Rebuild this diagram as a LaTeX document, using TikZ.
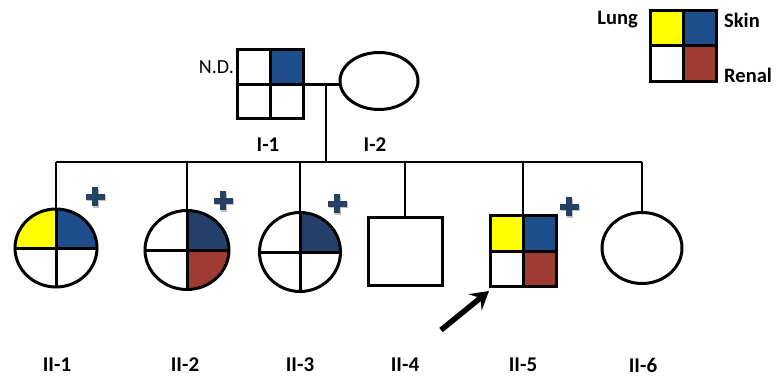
\documentclass[tikz,border=0pt]{standalone}
\usepackage{fontspec}
\setmainfont{Carlito}
\usetikzlibrary{shapes.geometric,arrows.meta}

\definecolor{lungY}{RGB}{255,255,0}
\definecolor{skinB}{RGB}{31,78,140}
\definecolor{skinD}{RGB}{36,64,106}
\definecolor{renalR}{RGB}{158,58,52}
\definecolor{plusB}{RGB}{38,64,102}

\tikzset{
  kin/.style={line width=2.6pt},
  indiv/.style={draw, line width=3pt, fill=white, inner sep=0pt, outer sep=0pt},
  female/.style={indiv, ellipse},
  male/.style={indiv, rectangle},
  % four quadrants: top-left, top-right, bottom-left, bottom-right
  quads/.style n args={4}{path picture={
      \fill[#1] (path picture bounding box.center) rectangle (path picture bounding box.north west);
      \fill[#2] (path picture bounding box.center) rectangle (path picture bounding box.north east);
      \fill[#3] (path picture bounding box.center) rectangle (path picture bounding box.south west);
      \fill[#4] (path picture bounding box.center) rectangle (path picture bounding box.south east);
      \draw[line width=3pt] (path picture bounding box.north) -- (path picture bounding box.south)
                            (path picture bounding box.west) -- (path picture bounding box.east);}},
  idlabel/.style={font=\bfseries\fontsize{21}{21}\selectfont, inner sep=0pt},
  keylabel/.style={font=\bfseries\fontsize{20.5}{20.5}\selectfont, inner sep=0pt},
  plusmark/.style={line width=6pt, draw=plusB},
  plusshade/.style={line width=6pt, draw=black, opacity=0.25},
  proband/.style={line width=5.5pt, -{Stealth[length=18pt,width=21pt,inset=7pt]}},
}

\newcommand{\plusat}[2]{%
  \draw[plusshade] (#1+1.3,#2-9.5+1.3) -- (#1+1.3,#2+9.5+1.3) (#1-9.5+1.3,#2+1.3) -- (#1+9.5+1.3,#2+1.3);
  \draw[plusmark] (#1,#2-9.5) -- (#1,#2+9.5) (#1-9.5,#2) -- (#1+9.5,#2);}

\begin{document}
\begin{tikzpicture}[x=1pt, y=-1pt]
\useasboundingbox (0,0) rectangle (779,382);

% legend
\node[male, minimum width=66pt, minimum height=71pt,
      quads={lungY}{skinB}{white}{renalR}] (key) at (683,46) {};
\node[keylabel, anchor=east] (keyLung) at (638,20) {Lung};
\node[keylabel, anchor=west] (keySkin) at (724,20) {Skin};
\node[keylabel, anchor=west] (keyRenal) at (724,75) {Renal};

% generation I
\node[male, minimum width=66pt, minimum height=69pt,
      quads={white}{skinB}{white}{white}] (I1) at (270,84.5) {};
\node[female, minimum width=78pt, minimum height=57pt] (I2) at (379,81) {};
\node[anchor=east, inner sep=0pt, font=\fontsize{20}{20}\selectfont] (nd) at (234,67) {N.D.};
\node[idlabel] (lI1) at (268,145) {I-1};
\node[idlabel] (lI2) at (375,145) {I-2};

% generation II
\node[female, minimum width=82pt, minimum height=78pt,
      quads={lungY}{skinB}{white}{white}] (II1) at (56,248) {};
\node[female, minimum width=84pt, minimum height=79pt,
      quads={white}{skinD}{white}{renalR}] (II2) at (187,250) {};
\node[female, minimum width=81pt, minimum height=79pt,
      quads={white}{skinD}{white}{white}] (II3) at (300,252) {};
\node[male, minimum width=74pt, minimum height=67pt] (II4) at (405,251.5) {};
\node[male, minimum width=66pt, minimum height=70pt,
      quads={lungY}{skinB}{white}{renalR}] (II5) at (523,251) {};
\node[female, minimum width=80pt, minimum height=71pt] (II6) at (642,248) {};

\node[idlabel] (lII1) at (57,365) {II-1};
\node[idlabel] (lII2) at (185,365) {II-2};
\node[idlabel] (lII3) at (300,365) {II-3};
\node[idlabel] (lII4) at (405,365) {II-4};
\node[idlabel] (lII5) at (523,365) {II-5};
\node[idlabel] (lII6) at (643,365) {II-6};

% mating, descent and sibship lines
\coordinate (mate) at (326,84);
\coordinate (sib) at (0,162);
\draw[kin] (I1.east) -- (I1.east -| I2.west);
\draw[kin] (mate) -- (mate |- sib);
\draw[kin] (II1.north |- sib) -- (II6.north |- sib);
\foreach \c in {II1,II2,II3,II4,II5,II6}
  \draw[kin] (\c.north) -- (\c.north |- sib);

% affected-status marks
\plusat{95}{197}
\plusat{223}{201}
\plusat{337}{204}
\plusat{569}{207}

% proband arrow
\coordinate (arrTail) at (441,330);
\draw[proband] (arrTail) -- ([shift={(-1,5)}]II5.south west);
\end{tikzpicture}
\end{document}
